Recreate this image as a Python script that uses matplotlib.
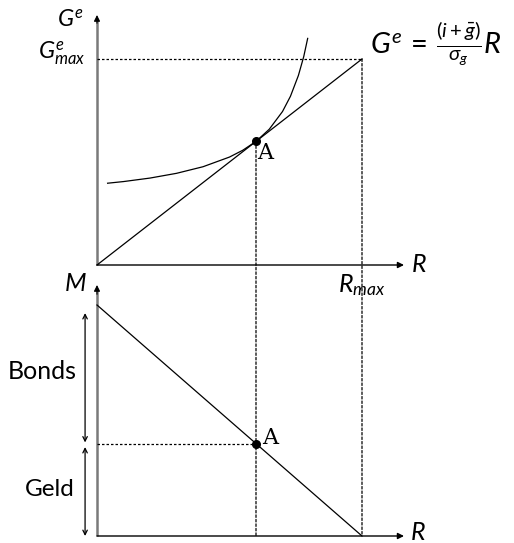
import matplotlib
matplotlib.use("Agg")
import matplotlib.pyplot as plt
from matplotlib.patches import ConnectionPatch

plt.rcParams['font.family'] = ['Lato', 'DejaVu Sans']
plt.rcParams['mathtext.fontset'] = 'custom'
plt.rcParams['mathtext.rm'] = 'Lato'
plt.rcParams['mathtext.it'] = 'Lato:italic'
plt.rcParams['mathtext.bf'] = 'Lato:bold'
plt.rcParams['mathtext.sf'] = 'Lato'

# ---- values (normalised units: R_max = 1, G_max = 1, M_max = 1) ----
R_max = 1.0
G_max = 1.0
M_max = 1.0
R_A = 0.6            # equilibrium reserves at point A
G_A = 0.6            # expected gains at A (on the ray)
M_A = 0.4            # money holdings at A

# convex expected-gain curve, tangent to the ray at A
curve_R = [0.04, 0.10, 0.20, 0.30, 0.40, 0.50, 0.55, 0.60, 0.65, 0.70, 0.73, 0.76, 0.78, 0.795]
curve_G = [0.397, 0.405, 0.422, 0.445, 0.477, 0.524, 0.557, 0.600, 0.659, 0.745, 0.819, 0.920, 1.011, 1.10]

W, H = 514, 543
fig = plt.figure(figsize=(W / 100, H / 100), dpi=100)

# top panel: origin at (97, 265) px, 265 px per R unit, 206 px per G unit
ax1 = fig.add_axes([97 / W, (H - 265) / H, 307 / W, 250 / H])
ax1.set_xlim(0, 307 / 265)
ax1.set_ylim(0, 250 / 206)
# bottom panel: origin at (97, 536) px, 231 px per M unit
ax2 = fig.add_axes([97 / W, (H - 536) / H, 307 / W, 251 / H])
ax2.set_xlim(0, 307 / 265)
ax2.set_ylim(0, 251 / 231)

for ax in (ax1, ax2):
    ax.axis('off')
    x_end = ax.get_xlim()[1]
    y_end = ax.get_ylim()[1]
    # vertical axis (grey shaft, black head)
    ax.plot([0, 0], [0, y_end - 0.02], color='#7a7a7a', lw=1.8, clip_on=False,
            solid_capstyle='butt')
    ax.annotate('', xy=(0, y_end), xytext=(0, y_end - 0.04),
                arrowprops=dict(arrowstyle='-|>', color='black', lw=0.8,
                                mutation_scale=9, shrinkA=0, shrinkB=0),
                annotation_clip=False)
    # horizontal axis
    ax.annotate('', xy=(x_end, 0), xytext=(0, 0),
                arrowprops=dict(arrowstyle='-|>', color='black', lw=1.0,
                                mutation_scale=9, shrinkA=0, shrinkB=0),
                annotation_clip=False)

dot = dict(color='black', lw=0.9, linestyle=(0, (2, 1.6)))

# ---- top panel ----
ax1.plot([0, R_max], [0, G_max], color='black', lw=0.9, clip_on=False)
ax1.plot(curve_R, curve_G, color='black', lw=0.9, clip_on=False)
ax1.plot([0, R_max], [G_max, G_max], clip_on=False, **dot)
ax1.plot([R_A], [G_A], 'o', color='black', ms=5.5, clip_on=False)

ax1.text(-0.05, 1.19, r'$G^e$', ha='right', va='center', fontsize=17)
ax1.text(-0.043, G_max, r'$G^e_{max}$', ha='right', va='baseline', fontsize=17)
ax1.text(1.185, 0, r'$R$', ha='left', va='center', fontsize=18)
ax1.text(R_max, -0.035, r'$R_{max}$', ha='center', va='top', fontsize=18)
ax1.text(1.03, 1.025, r'$G^e\,=\,\frac{(i+\bar{g})}{\sigma_g}R$', ha='left',
         va='baseline', fontsize=21)
ax1.text(R_A + 0.006, G_A - 0.003, 'A', ha='left', va='top', fontsize=16,
         family='DejaVu Serif')

# ---- bottom panel ----
ax2.plot([0, R_max], [M_max, 0], color='black', lw=0.9, clip_on=False)
ax2.plot([0, R_A], [M_A, M_A], clip_on=False, **dot)
ax2.plot([R_A], [M_A], 'o', color='black', ms=5.5, clip_on=False)

ax2.text(-0.038, 1.06, r'$M$', ha='right', va='baseline', fontsize=18)
ax2.text(1.18, 0.015, r'$R$', ha='left', va='center', fontsize=18)
ax2.text(R_A + 0.025, M_A, 'A', ha='left', va='baseline', fontsize=16,
         family='DejaVu Serif')

# bonds / money brackets
ax2.annotate('', xy=(-0.045, M_A + 0.005), xytext=(-0.045, 0.965),
             arrowprops=dict(arrowstyle='<->', color='black', lw=0.9,
                             mutation_scale=8, shrinkA=0, shrinkB=0),
             annotation_clip=False)
ax2.annotate('', xy=(-0.045, 0.0), xytext=(-0.045, M_A - 0.015),
             arrowprops=dict(arrowstyle='<->', color='black', lw=0.9,
                             mutation_scale=8, shrinkA=0, shrinkB=0),
             annotation_clip=False)
ax2.text(-0.075, 0.68, 'Bonds', ha='right', va='baseline', fontsize=18)
ax2.text(-0.083, 0.173, 'Geld', ha='right', va='baseline', fontsize=17.5)

# dotted verticals running through both panels
for (xa, ya) in [(R_max, G_max), (R_A, G_A)]:
    con = ConnectionPatch(xyA=(xa, ya), coordsA=ax1.transData,
                          xyB=(xa, 0), coordsB=ax2.transData, **dot)
    fig.add_artist(con)

fig.savefig('out.png', dpi=100)
